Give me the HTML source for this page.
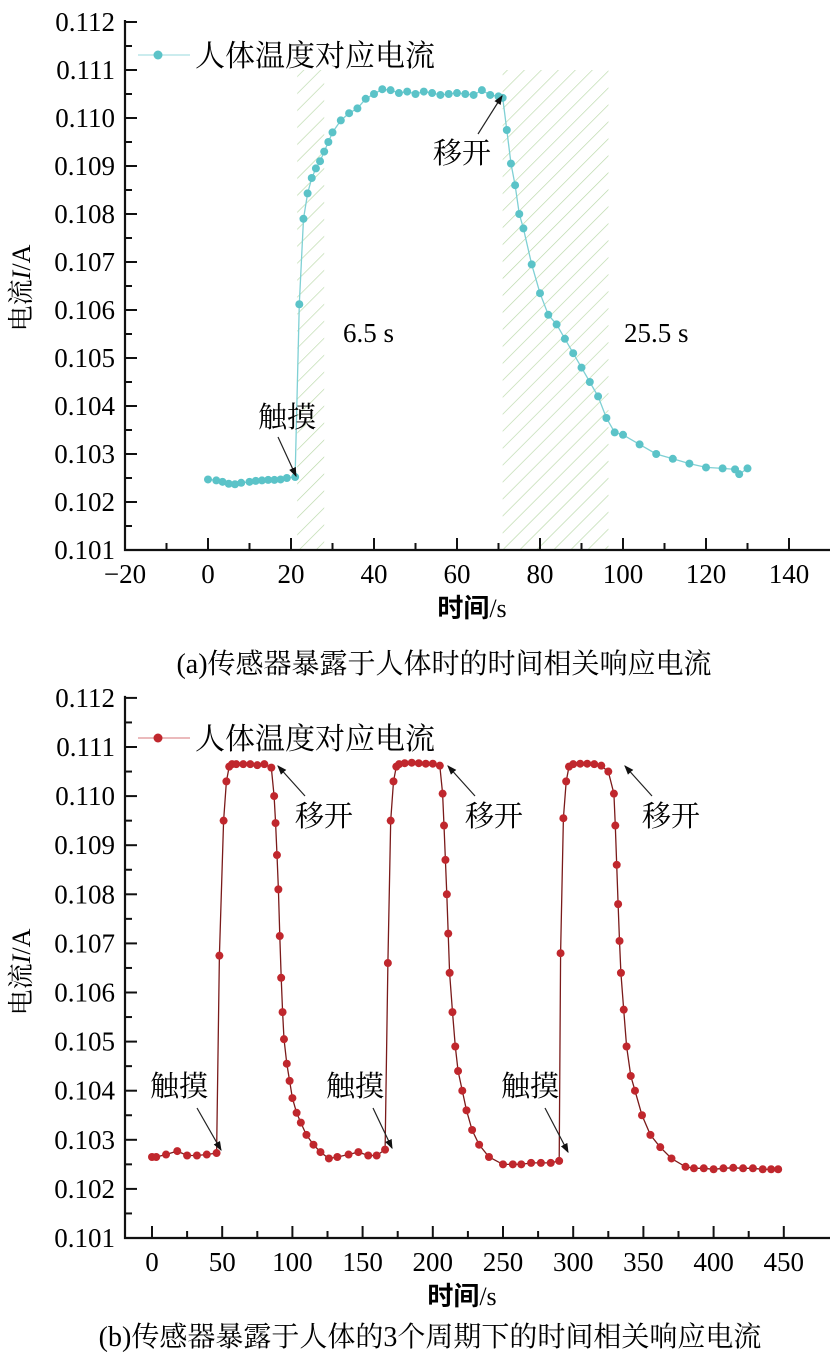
<!DOCTYPE html>
<html><head><meta charset="utf-8">
<style>
body{margin:0;background:#fff;}
svg{display:block;font-family:"Liberation Serif","Noto Serif CJK SC",serif;}
</style></head>
<body>
<svg id="chart" width="838" height="1357" viewBox="0 0 838 1357" xmlns="http://www.w3.org/2000/svg">
<defs>
<pattern id="hatch" patternUnits="userSpaceOnUse" width="12" height="12" patternTransform="rotate(45)">
<line x1="0" y1="0" x2="0" y2="12" stroke="#b9d8a8" stroke-width="1.3"/>
</pattern>
<marker id="arr" markerWidth="8" markerHeight="8" refX="7" refY="4" orient="auto"><path d="M0,1 L8,4 L0,7 Z" fill="#111"/></marker>
</defs>
<g id="g"></g>
</svg>
<script>
// ---- Chart (a) data ----
const aTimes = [0,2,3.5,5,6.5,8,10,11.5,13,14.5,16,17.5,19,21, 22,23,24,25,26,27,28,29,30,32,34,36,38,40,42,44,46,48,50,52,54,56,58,60,62,64,66,68,70,71, 72,73,74,75,76,78,80,82,84,86,88,90,92,94,96,98,100,104,108,112,116,120,124,127,128,130];
const aValues = [0.10247,0.10245,0.10242,0.10238,0.10237,0.10240,0.10242,0.10244,0.10245,0.10246,0.10246,0.10247,0.10250,0.10252, 0.10612,0.10790,0.10843,0.10875,0.10895,0.10910,0.10930,0.10950,0.10970,0.10995,0.11010,0.11020,0.11040,0.11050,0.11060,0.11058,0.11052,0.11055,0.11050,0.11055,0.11052,0.11048,0.11050,0.11052,0.11050,0.11048,0.11058,0.11048,0.11045,0.11042, 0.10975,0.10905,0.10860,0.10800,0.10770,0.10695,0.10635,0.10590,0.10570,0.10540,0.10510,0.10480,0.10450,0.10420,0.10375,0.10345,0.10340,0.10320,0.10300,0.10290,0.10280,0.10272,0.10270,0.10268,0.10258,0.10270];
const aXTicks = [-20,0,20,40,60,80,100,120,140];
const aYTicks = [0.101,0.102,0.103,0.104,0.105,0.106,0.107,0.108,0.109,0.110,0.111,0.112];
const aShade = [[21.5,28],[71,96.5]];
// ---- Chart (b) data ----
const bTimes = [0,3,10,18,25,32,39,46, 48,51,53,55,57,60,65,70,75,80,85, 87,88,89,90,91,92,93,94,96,98,100,103,106,110,115,120, 126,132,140,147,154,160,166, 168,170,172,174,176,180,185,190,195,200,205, 207,208,209,210,211,212,214,216,218,221,224,228,233,240, 250,257,263,270,277,284,290, 291,293,295,297,300,305,310,315,320,325, 329,330,331,332,333,334,336,338,341,344,349,355,362,370, 380,386,393,400,407,414,421,428,435,441,446];
const bValues = [0.10265,0.10265,0.10270,0.10277,0.10268,0.10268,0.10270,0.10273, 0.10675,0.10950,0.11030,0.11060,0.11065,0.11065,0.11065,0.11065,0.11063,0.11065,0.11058, 0.11000,0.10945,0.10880,0.10810,0.10715,0.10630,0.10560,0.10505,0.10455,0.10420,0.10385,0.10355,0.10335,0.10310,0.10290,0.10275, 0.10262,0.10265,0.10270,0.10275,0.10268,0.10268,0.10280, 0.10660,0.10950,0.11030,0.11060,0.11065,0.11067,0.11068,0.11067,0.11066,0.11066,0.11062, 0.11005,0.10940,0.10870,0.10800,0.10720,0.10640,0.10560,0.10490,0.10440,0.10400,0.10360,0.10320,0.10290,0.10265, 0.10250,0.10250,0.10250,0.10253,0.10253,0.10253,0.10257, 0.10680,0.10955,0.11030,0.11060,0.11065,0.11066,0.11066,0.11065,0.11062,0.11050, 0.11005,0.10940,0.10860,0.10780,0.10705,0.10640,0.10565,0.10490,0.10430,0.10400,0.10350,0.10310,0.10285,0.10262, 0.10245,0.10242,0.10242,0.10240,0.10242,0.10243,0.10242,0.10242,0.10240,0.10240,0.10240];
const bXTicks = [0,50,100,150,200,250,300,350,400,450];
const bYTicks = [0.101,0.102,0.103,0.104,0.105,0.106,0.107,0.108,0.109,0.110,0.111,0.112];

const NS="http://www.w3.org/2000/svg";
const root=document.getElementById('g');
function mk(tag,attrs,parent,text){const e=document.createElementNS(NS,tag);for(const k in attrs)e.setAttribute(k,attrs[k]);if(text!==undefined)e.textContent=text;(parent||root).appendChild(e);return e;}

function drawChart(cfg){
  const {times,values,xTicks,yTicks,x0,xs,y0,ys,left,right,bottom,color,minorX,id}=cfg;
  const X=t=>x0+(t-cfg.xRef)*xs;
  const Y=v=>y0-(v-0.101)*ys;
  const grp=mk('g',{});
  
  
  if(cfg.shade){cfg.shade.forEach((s,i)=>{
    const r=mk('rect',{x:X(s[0]),y:cfg.shadeTop,width:X(s[1])-X(s[0]),height:bottom-cfg.shadeTop,fill:'url(#hatch)'},grp);
    
    
  });}
  const ax=mk('path',{d:`M${left},${Y(0.112)-2} L${left},${bottom} L${right},${bottom}`,stroke:'#111','stroke-width':2.2,fill:'none'},grp);
  
  
  yTicks.forEach((v,i)=>{
    const y=Y(v);
    mk('line',{x1:left,x2:left+12,y1:y,y2:y,stroke:'#111','stroke-width':2},grp);
    if(i<yTicks.length-1){const ym=Y(v+0.0005);mk('line',{x1:left,x2:left+7,y1:ym,y2:ym,stroke:'#111','stroke-width':2},grp);}
    const t=mk('text',{x:left-10,y:y+9,'text-anchor':'end','font-size':27},grp,v.toFixed(3));
    
    
  });
  xTicks.forEach((v,i)=>{
    const x=X(v);
    mk('line',{x1:x,x2:x,y1:bottom,y2:bottom-12,stroke:'#111','stroke-width':2},grp);
    if(i<xTicks.length-1){const xm=X(v+minorX);mk('line',{x1:xm,x2:xm,y1:bottom,y2:bottom-7,stroke:'#111','stroke-width':2},grp);}
    const t=mk('text',{x:x,y:bottom+33,'text-anchor':'middle','font-size':27},grp,(v<0?'\u2212'+(-v):String(v)));
    
    
  });
  let d='';times.forEach((t,i)=>{d+=(i?'L':'M')+X(t).toFixed(1)+','+Y(values[i]).toFixed(1);});
  const ln=mk('path',{d:d,stroke:cfg.lineColor,'stroke-width':1.3,fill:'none'},grp);
  
  
  times.forEach((t,i)=>{
    const c=mk('circle',{cx:X(t),cy:Y(values[i]),r:cfg.r,fill:color},grp);
    
    
  });
  return {X,Y};
}

const A=drawChart({id:'a',times:aTimes,values:aValues,xTicks:aXTicks,yTicks:aYTicks,x0:125,xRef:-20,xs:4.15,y0:550,ys:48000,left:125,right:830,bottom:550,color:'#5bc3c8',lineColor:'#7fd0d4',minorX:10,shade:aShade,shadeTop:70,r:4});
const B=drawChart({id:'b',times:bTimes,values:bValues,xTicks:bXTicks,yTicks:bYTicks,x0:152,xRef:0,xs:1.404,y0:1238,ys:49100,left:125,right:830,bottom:1238,color:'#c0272d',lineColor:'#7a1a1a',minorX:25,r:4});

function label(x,y,txt,name,size,anchor,weight){
  const t=mk('text',{x:x,y:y,'font-size':size||26,'text-anchor':anchor||'start','font-weight':weight||'normal'},root,txt);
  
  
  return t;
}
function arrow(x1,y1,x2,y2,name){
  const l=mk('line',{x1,y1,x2,y2,stroke:'#222','stroke-width':1.2,'marker-end':'url(#arr)'});
  
  
}
[[A,'a',55],[B,'b',738]].forEach(([C,id,y])=>{
  const col=id==='a'?'#5bc3c8':'#c0272d';
  const l=mk('line',{x1:138,x2:190,y1:y,y2:y,stroke:col,'stroke-width':1.2,opacity:0.5});
  
  
  const c=mk('circle',{cx:158,cy:y,r:4.5,fill:col});
  
  
  label(195,y+11,'人体温度对应电流',id+'-legend-label',30);
});
label(258,427,'触摸','a-touch-label',29);
arrow(278,437,296,476,'a-touch-arrow');
label(433,163,'移开','a-leave-label',29);
arrow(478,134,502,96,'a-leave-arrow');
label(343,342,'6.5 s','a-rise-time',27);
label(624,342,'25.5 s','a-fall-time',27);
[[150,1096,197,1108,221,1150],[326,1096,373,1108,392,1148],[501,1096,545,1108,568,1152]].forEach((p,i)=>{
  label(p[0],p[1],'触摸','b-touch-label-'+(i+1),29);
  arrow(p[2],p[3],p[4],p[5],'b-touch-arrow-'+(i+1));
});
[[295,826,278,766],[465,826,448,766],[642,826,625,766]].forEach((p,i)=>{
  label(p[0],p[1],'移开','b-leave-label-'+(i+1),29);
  arrow(p[0]+10,p[1]-30,p[2],p[3],'b-leave-arrow-'+(i+1));
});
label(472,617,'时间/s','a-x-axis-title',26,'middle').innerHTML='<tspan font-weight="bold" font-family="Liberation Sans, Noto Sans CJK SC, sans-serif">时间</tspan>/s';
label(462,1305,'时间/s','b-x-axis-title',26,'middle').innerHTML='<tspan font-weight="bold" font-family="Liberation Sans, Noto Sans CJK SC, sans-serif">时间</tspan>/s';
const ya=label(0,0,'电流I/A','a-y-axis-title',26,'middle');
ya.setAttribute('transform','translate(30,288) rotate(-90)');
ya.innerHTML='电流<tspan font-style="italic">I</tspan>/A';
const yb=label(0,0,'电流I/A','b-y-axis-title',26,'middle');
yb.setAttribute('transform','translate(30,972) rotate(-90)');
yb.innerHTML='电流<tspan font-style="italic">I</tspan>/A';
label(444,673,'(a)传感器暴露于人体时的时间相关响应电流','a-caption',28,'middle');
label(430,1346,'(b)传感器暴露于人体的3个周期下的时间相关响应电流','b-caption',28,'middle');
</script>
</body></html>
